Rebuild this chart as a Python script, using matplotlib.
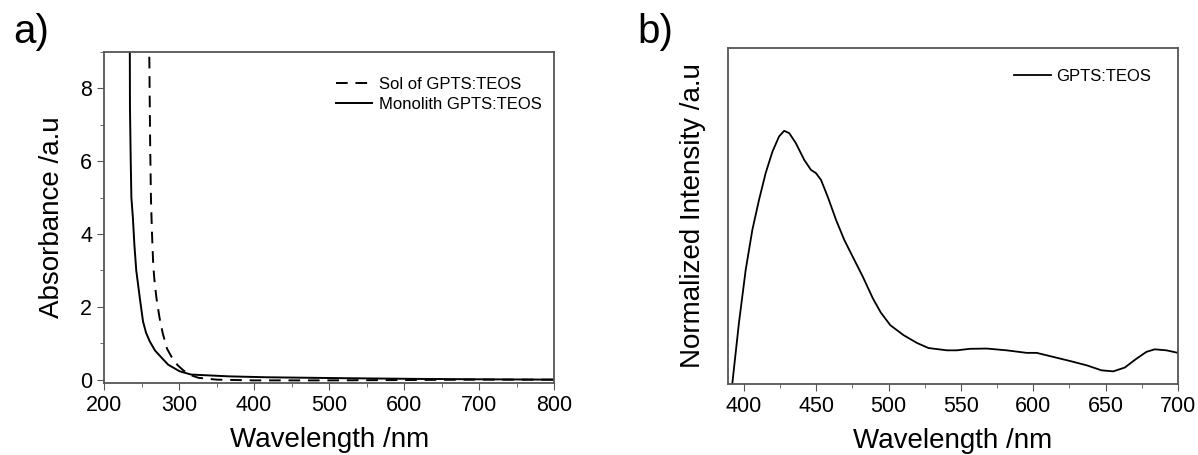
import matplotlib.pyplot as plt
from matplotlib.ticker import MultipleLocator, NullLocator

plt.rcParams['font.family'] = ['Liberation Sans', 'DejaVu Sans']

# a) absorbance spectra
wl_mono = [234.4, 234.6, 235.6, 236.5, 238.5, 240.5, 243.0, 245.5, 248.0, 252.0, 256.0,
           261.0, 268.0, 276.9, 285.6, 300.8, 316, 367, 418, 520, 621, 700, 800]
abs_mono = [9.2, 7.5, 6.04, 5.0, 4.45, 3.7, 3.0, 2.6, 2.2, 1.6, 1.29,
            1.05, 0.8, 0.6, 0.41, 0.23, 0.14, 0.09, 0.065, 0.04, 0.02, 0.01, 0.0]

wl_sol = [260.4, 261.5, 262.6, 264.0, 265.7, 267.8, 270.2, 274.0, 278.2, 284.0, 290.2,
          298.0, 306.0, 316.0, 326.0, 350.0, 400.0, 500.0, 600.0, 700.0, 800.0]
abs_sol = [8.87, 6.5, 4.95, 4.0, 3.11, 2.6, 2.2, 1.7, 1.28, 0.85, 0.62,
           0.4, 0.25, 0.12, 0.05, 0.0, -0.02, -0.02, -0.01, 0.0, 0.0]

# b) normalized photoluminescence
wl_pl = [391.9, 396.5, 401.2, 405.8, 410.4, 415.0, 419.7, 424.3, 427.8, 431.3, 435.9,
         441.7, 446.3, 449.8, 453.3, 457.9, 463.7, 469.4, 475.2, 482.2, 489.1, 494.6,
         501.2, 510.3, 519.6, 527.6, 540.3, 547.2, 556.3, 567.8, 581.6, 595.4, 602.3,
         613.8, 625.3, 636.8, 647.2, 655.2, 663.2, 671.3, 678.2, 683.9, 692.0, 700.0]
int_pl = [0.0, 0.240, 0.451, 0.609, 0.727, 0.833, 0.918, 0.978, 1.0, 0.991, 0.951,
          0.885, 0.846, 0.833, 0.806, 0.740, 0.648, 0.569, 0.503, 0.424, 0.339, 0.283,
          0.233, 0.194, 0.163, 0.143, 0.134, 0.134, 0.140, 0.141, 0.134, 0.124, 0.124,
          0.108, 0.092, 0.075, 0.055, 0.051, 0.066, 0.101, 0.128, 0.138, 0.134, 0.124]

fig = plt.figure(figsize=(11.98, 4.55), dpi=100)
ax1 = fig.add_axes([0.0868, 0.1576, 0.3759, 0.7281])
ax2 = fig.add_axes([0.6077, 0.1554, 0.3756, 0.7398])

spine_col = '#555555'

ax1.plot(wl_sol, abs_sol, 'k--', lw=1.4, dashes=(6, 4), label='Sol of GPTS:TEOS')
ax1.plot(wl_mono, abs_mono, 'k-', lw=1.4, label='Monolith GPTS:TEOS')
ax1.set_xlim(200, 800)
ax1.set_ylim(-0.1, 9.0)
ax1.xaxis.set_major_locator(MultipleLocator(100))
ax1.xaxis.set_minor_locator(MultipleLocator(50))
ax1.yaxis.set_major_locator(MultipleLocator(2))
ax1.yaxis.set_minor_locator(MultipleLocator(1))
ax1.set_xlabel('Wavelength /nm', fontsize=20, labelpad=8)
ax1.set_ylabel('Absorbance /a.u', fontsize=20, labelpad=11)
ax1.legend(loc='upper right', bbox_to_anchor=(0.973, 0.925), frameon=False, fontsize=12,
           handlelength=2.2, handletextpad=0.42, labelspacing=0.3, borderpad=0,
           borderaxespad=0)
fig.text(13 / 1198, 1 - 43 / 455, 'a)', fontsize=29, va='baseline')

ax2.plot(wl_pl, int_pl, 'k-', lw=1.3, label='GPTS:TEOS')
ax2.set_xlim(389, 700)
ax2.set_ylim(0, 1.328)
ax2.xaxis.set_major_locator(MultipleLocator(50))
ax2.xaxis.set_minor_locator(MultipleLocator(25))
ax2.yaxis.set_major_locator(NullLocator())
ax2.set_xlabel('Wavelength /nm', fontsize=20, labelpad=8)
ax2.set_ylabel('Normalized Intensity /a.u', fontsize=20, labelpad=16)
ax2.legend(loc='upper right', bbox_to_anchor=(0.941, 0.936), frameon=False, fontsize=12,
           handlelength=2.2, handletextpad=0.36, borderpad=0, borderaxespad=0)
fig.text(637 / 1198, 1 - 43 / 455, 'b)', fontsize=29, va='baseline')

for ax in (ax1, ax2):
    for s in ax.spines.values():
        s.set_color(spine_col)
        s.set_linewidth(1.3)
    ax.tick_params(which='both', direction='out', colors=spine_col, labelcolor='black',
                   labelsize=15.5, top=False, right=False)
    ax.tick_params(which='major', length=5)
    ax.tick_params(which='minor', length=3)

fig.savefig('out.png', dpi=100)
